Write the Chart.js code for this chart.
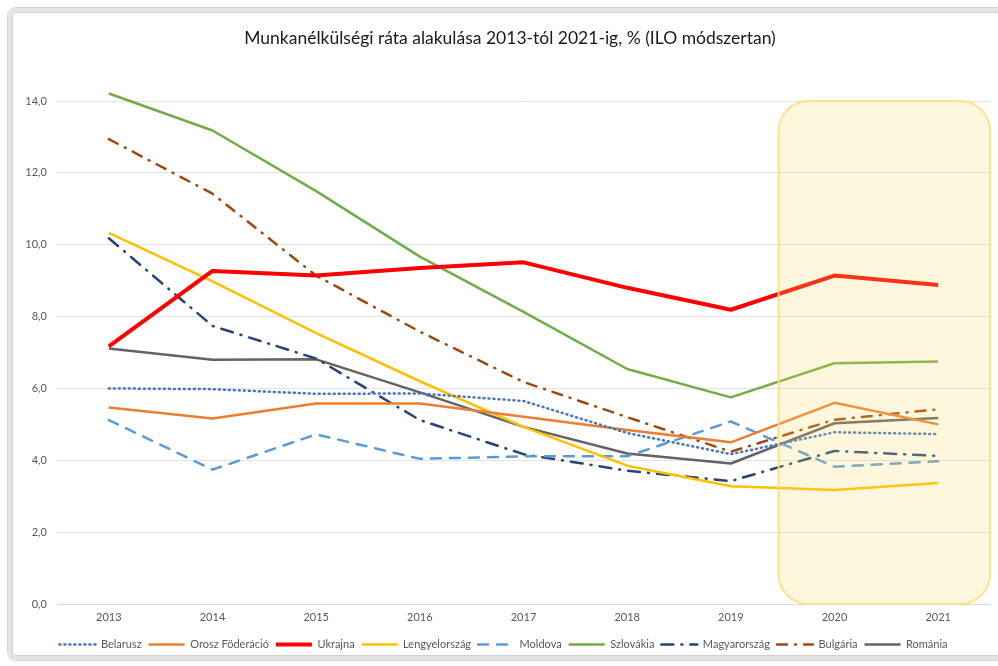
<!DOCTYPE html>
<html>
<head>
<meta charset="utf-8">
<script src="https://cdn.jsdelivr.net/npm/chart.js@4.4.0/dist/chart.umd.min.js"></script>
<style>
  html, body { margin: 0; padding: 0; background: #ffffff; }
  #wrap { position: relative; width: 998px; height: 666px; overflow: hidden; }
  #frame { position: absolute; left: 8px; top: 8px; width: 1010px; height: 652px;
           border: 4px solid #e4e4e4; border-radius: 8px; box-sizing: border-box;
           box-shadow: inset 0 0 0 1px #d0d0d0, 0 0 0 1px #d6d6d6; }
  canvas { position: absolute; left: 0; top: 0; }
</style>
</head>
<body>
<div id="wrap">
  <div id="frame"></div>
  <canvas id="c" width="998" height="666"></canvas>
</div>
<script>
const years = ['2013','2014','2015','2016','2017','2018','2019','2020','2021'];
const yTicks = [0, 2, 4, 6, 8, 10, 12, 14];

const belarusz      = [6.0, 5.98, 5.85, 5.86, 5.65, 4.76, 4.17, 4.78, 4.73];
const oroszFoderacio= [5.47, 5.16, 5.58, 5.58, 5.21, 4.84, 4.50, 5.60, 5.00];
const ukrajna       = [7.17, 9.27, 9.14, 9.35, 9.51, 8.80, 8.19, 9.14, 8.88];
const lengyelorszag = [10.33, 8.98, 7.54, 6.20, 4.93, 3.85, 3.28, 3.17, 3.37];
const moldova       = [5.12, 3.74, 4.72, 4.04, 4.11, 4.11, 5.08, 3.82, 3.97];
const szlovakia     = [14.21, 13.18, 11.49, 9.67, 8.13, 6.54, 5.75, 6.70, 6.75];
const magyarorszag  = [10.18, 7.74, 6.83, 5.12, 4.17, 3.71, 3.42, 4.26, 4.12];
const bulgaria      = [12.94, 11.42, 9.14, 7.58, 6.18, 5.20, 4.24, 5.13, 5.42];
const romania       = [7.11, 6.80, 6.81, 5.89, 4.93, 4.19, 3.91, 5.03, 5.18];

const highlightPlugin = {
  id: 'highlight',
  afterDatasetsDraw(chart) {
    const {ctx, chartArea, scales} = chart;
    const x = scales.x, y = scales.y;
    const left = x.getPixelForValue(6.46);
    const right = chartArea.right;
    const top = y.getPixelForValue(14);
    const bottom = y.getPixelForValue(0);
    const r = 30;
    ctx.save();
    ctx.beginPath();
    ctx.moveTo(left + r, top);
    ctx.lineTo(right - r, top);
    ctx.arcTo(right, top, right, top + r, r);
    ctx.lineTo(right, bottom - r);
    ctx.arcTo(right, bottom, right - r, bottom, r);
    ctx.lineTo(left + r, bottom);
    ctx.arcTo(left, bottom, left, bottom - r, r);
    ctx.lineTo(left, top + r);
    ctx.arcTo(left, top, left + r, top, r);
    ctx.closePath();
    ctx.fillStyle = 'rgba(255, 217, 102, 0.22)';
    ctx.fill();
    ctx.lineWidth = 2;
    ctx.strokeStyle = 'rgba(255, 222, 130, 0.9)';
    ctx.stroke();
    ctx.restore();
  }
};

const titlePlugin = {
  id: 'customTitle',
  afterDraw(chart) {
    const ctx = chart.ctx;
    ctx.save();
    ctx.font = '17.5px Lato';
    ctx.fillStyle = '#1a1a1a';
    ctx.textAlign = 'center';
    ctx.textBaseline = 'middle';
    ctx.fillText('Munkanélkülségi ráta alakulása 2013-tól 2021-ig, % (ILO módszertan)', 510, 38);
    ctx.restore();
  }
};

function ds(label, data, color, width, dash) {
  return {
    label, data,
    borderColor: color, backgroundColor: color,
    borderWidth: width, borderDash: dash,
    pointRadius: 0, pointHoverRadius: 0,
    pointBorderWidth: width,
    tension: 0, fill: false,
    pointStyle: 'line',
    borderCapStyle: dash.length ? 'round' : 'butt',
    borderJoinStyle: 'round'
  };
}

new Chart(document.getElementById('c'), {
  type: 'line',
  data: {
    labels: years,
    datasets: [
      ds('Belarusz', belarusz, '#4472C4', 2.5, [1, 4]),
      ds('Orosz Föderáció', oroszFoderacio, '#ED7D31', 2.5, []),
      ds('Ukrajna', ukrajna, '#FF0000', 4, []),
      ds('Lengyelország', lengyelorszag, '#FFC000', 2.5, []),
      ds('Moldova', moldova, '#5B9BD5', 2.5, [10, 9]),
      ds('Szlovákia', szlovakia, '#70AD47', 2.5, []),
      ds('Magyarország', magyarorszag, '#264478', 2.5, [12, 8, 1, 8]),
      ds('Bulgária', bulgaria, '#9E480E', 2.5, [10, 8, 1, 8]),
      ds('Románia', romania, '#636363', 2.5, [])
    ]
  },
  options: {
    responsive: false,
    animation: false,
    events: [],
    clip: false,
    layout: { padding: { left: 17, right: 8, top: 101, bottom: 6 } },
    plugins: {
      title: { display: false },
      tooltip: { enabled: false },
      legend: {
        position: 'bottom',
        labels: {
          usePointStyle: true,
          pointStyleWidth: 36,
          padding: 7,
          color: '#595959',
          font: { family: 'Lato', size: 11 },
          generateLabels(chart) {
            const items = Chart.defaults.plugins.legend.labels.generateLabels(chart);
            items.forEach(it => {
              const d = chart.data.datasets[it.datasetIndex];
              it.lineDash = d.borderDash;
              it.lineWidth = d.borderWidth;
              it.strokeStyle = d.borderColor;
              it.lineCap = d.borderCapStyle;
              it.pointStyle = 'line';
            });
            return items;
          }
        }
      }
    },
    scales: {
      x: {
        offset: true,
        grid: { display: false, drawTicks: false },
        border: { display: true, color: '#d9d9d9' },
        ticks: { color: '#595959', font: { family: 'Lato', size: 11 }, padding: 7, maxRotation: 0 },
        afterFit(scale) { scale.height = 28; }
      },
      y: {
        min: 0, max: 14,
        afterBuildTicks(scale) { scale.ticks = yTicks.map(v => ({ value: v })); },
        grid: { color: '#e3e3e3', lineWidth: 1, drawTicks: false },
        border: { display: false },
        ticks: {
          color: '#595959', font: { family: 'Lato', size: 11 }, padding: 10,
          callback: v => v.toFixed(1).replace('.', ',')
        },
        afterFit(scale) { scale.width = 40; }
      }
    }
  },
  plugins: [highlightPlugin, titlePlugin]
});
</script>
</body>
</html>
